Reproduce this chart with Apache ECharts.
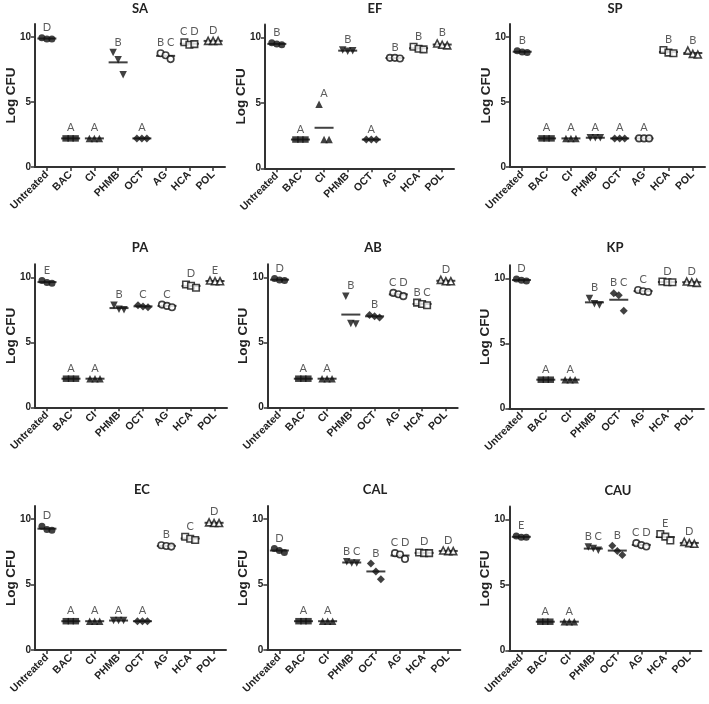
<!DOCTYPE html>
<html><head><meta charset="utf-8">
<script src="https://cdn.jsdelivr.net/npm/echarts@6/dist/echarts.min.js"></script>
<style>html,body{margin:0;padding:0;background:#fff}#c{width:709px;height:704px}</style>
</head><body><div id="c"></div>
<script>
// ---------- data ----------
const categories = ['Untreated', 'BAC', 'CI', 'PHMB', 'OCT', 'AG', 'HCA', 'POL'];
const yTickValues = [0, 5, 10];
const panelNames = ['SA', 'EF', 'SP', 'PA', 'AB', 'KP', 'EC', 'CAL', 'CAU'];

const SA_values = [[9.95, 9.85, 9.85], [2.2, 2.2, 2.2], [2.2, 2.2, 2.2], [8.8, 8.25, 7.1], [2.2, 2.2, 2.2], [8.75, 8.6, 8.3], [9.6, 9.4, 9.45], [9.7, 9.7, 9.7]];
const SA_letters = ['D', 'A', 'A', 'B', 'A', 'B C', 'C D', 'D'];

const EF_values = [[9.6, 9.5, 9.45], [2.2, 2.2, 2.2], [4.9, 2.2, 2.2], [9.05, 8.95, 9.0], [2.2, 2.2, 2.2], [8.45, 8.45, 8.4], [9.3, 9.15, 9.1], [9.55, 9.45, 9.4]];
const EF_letters = ['B', 'A', 'A', 'B', 'A', 'B', 'B', 'B'];

const SP_values = [[8.95, 8.85, 8.8], [2.2, 2.2, 2.2], [2.2, 2.2, 2.2], [2.25, 2.25, 2.25], [2.2, 2.2, 2.2], [2.2, 2.2, 2.2], [9.0, 8.8, 8.75], [8.95, 8.7, 8.65]];
const SP_letters = ['B', 'A', 'A', 'A', 'A', 'A', 'B', 'B'];

const PA_values = [[9.75, 9.6, 9.55], [2.2, 2.2, 2.2], [2.2, 2.2, 2.2], [7.85, 7.55, 7.5], [7.85, 7.75, 7.7], [7.9, 7.8, 7.7], [9.45, 9.35, 9.2], [9.75, 9.7, 9.7]];
const PA_letters = ['E', 'A', 'A', 'B', 'C', 'C', 'D', 'E'];

const AB_values = [[9.9, 9.8, 9.75], [2.2, 2.2, 2.2], [2.2, 2.2, 2.2], [8.55, 6.45, 6.4], [7.1, 7.0, 6.9], [8.8, 8.7, 8.55], [8.05, 7.95, 7.85], [9.8, 9.7, 9.7]];
const AB_letters = ['D', 'A', 'A', 'B', 'B', 'C D', 'B C', 'D'];

const KP_values = [[9.95, 9.85, 9.8], [2.2, 2.2, 2.2], [2.2, 2.2, 2.2], [8.45, 8.05, 7.95], [8.85, 8.7, 7.5], [9.1, 9.0, 8.95], [9.75, 9.7, 9.7], [9.75, 9.7, 9.65]];
const KP_letters = ['D', 'A', 'A', 'B', 'B C', 'C', 'D', 'D'];

const EC_values = [[9.45, 9.2, 9.15], [2.2, 2.2, 2.2], [2.2, 2.2, 2.2], [2.25, 2.25, 2.25], [2.2, 2.2, 2.2], [8.0, 7.95, 7.9], [8.65, 8.5, 8.4], [9.75, 9.7, 9.7]];
const EC_letters = ['D', 'A', 'A', 'A', 'A', 'B', 'C', 'D'];

const CAL_values = [[7.75, 7.6, 7.45], [2.2, 2.2, 2.2], [2.2, 2.2, 2.2], [6.75, 6.65, 6.65], [6.6, 6.0, 5.4], [7.4, 7.3, 6.95], [7.45, 7.4, 7.4], [7.6, 7.55, 7.55]];
const CAL_letters = ['D', 'A', 'A', 'B C', 'B', 'C D', 'D', 'D'];

const CAU_values = [[8.75, 8.65, 8.65], [2.2, 2.2, 2.2], [2.2, 2.2, 2.2], [7.9, 7.8, 7.65], [8.0, 7.6, 7.3], [8.2, 8.05, 7.95], [8.9, 8.7, 8.4], [8.3, 8.2, 8.15]];
const CAU_letters = ['E', 'A', 'A', 'B C', 'B', 'C D', 'E', 'D'];

// ---------- layout & style ----------
const panelValues = [SA_values, EF_values, SP_values, PA_values, AB_values, KP_values, EC_values, CAL_values, CAU_values];
const panelLetters = [SA_letters, EF_letters, SP_letters, PA_letters, AB_letters, KP_letters, EC_letters, CAL_letters, CAU_letters];

const layouts = [
  {left: 35, top: 24, width: 190, height: 143, tx: 140, ty: 9},
  {left: 265, top: 24.5, width: 189, height: 143.8, tx: 375, ty: 9},
  {left: 510, top: 24, width: 195, height: 143, tx: 615, ty: 9},
  {left: 35, top: 264.3, width: 192, height: 143, tx: 140, ty: 248},
  {left: 267.7, top: 264.3, width: 190, height: 143, tx: 373, ty: 248},
  {left: 509.3, top: 265.3, width: 194.6, height: 143, tx: 615, ty: 248},
  {left: 35, top: 506, width: 191, height: 144, tx: 142, ty: 490},
  {left: 267.3, top: 506, width: 193, height: 144, tx: 375, ty: 490},
  {left: 509.3, top: 506.5, width: 192, height: 144, tx: 618, ty: 491}
];

const markerStyles = [
  {symbol: 'circle', size: 7, rotate: 0, open: false},
  {symbol: 'rect', size: 6.5, rotate: 0, open: false},
  {symbol: 'triangle', size: 7.5, rotate: 0, open: false},
  {symbol: 'triangle', size: 7.5, rotate: 180, open: false},
  {symbol: 'diamond', size: 8, rotate: 0, open: false},
  {symbol: 'circle', size: 6.5, rotate: 0, open: true},
  {symbol: 'rect', size: 6.5, rotate: 0, open: true},
  {symbol: 'triangle', size: 7, rotate: 0, open: true}
];
const pointOffsets = [-5, 0, 5];
const AXIS_COLOR = '#333';
const TEXT_COLOR = '#222';

const grids = [], xAxes = [], yAxes = [], series = [], graphics = [];

panelValues.forEach((vals, i) => {
  const L = layouts[i];
  grids.push({left: L.left, top: L.top, width: L.width, height: L.height, containLabel: false});
  xAxes.push({
    type: 'category', gridIndex: i, data: categories,
    axisLine: {show: true, lineStyle: {color: AXIS_COLOR, width: 2}},
    axisTick: {show: true, alignWithLabel: true, length: 4, lineStyle: {color: AXIS_COLOR, width: 1.5}},
    axisLabel: {rotate: 45, interval: 0, margin: 6, fontSize: 10.5, fontWeight: 'bold', color: TEXT_COLOR, fontFamily: 'Liberation Sans'},
    splitLine: {show: false}
  });
  yAxes.push({
    type: 'value', gridIndex: i, min: 0, max: 11, interval: 5,
    name: 'Log CFU', nameLocation: 'middle', nameGap: 17, nameMoveOverlap: false,
    nameTextStyle: {fontSize: 13.5, fontWeight: 'bold', color: TEXT_COLOR, fontFamily: 'Liberation Sans'},
    axisLine: {show: true, lineStyle: {color: AXIS_COLOR, width: 2}},
    axisTick: {show: true, length: 4, customValues: yTickValues, lineStyle: {color: AXIS_COLOR, width: 1.5}},
    axisLabel: {customValues: yTickValues, margin: 4, fontSize: 10, fontWeight: 'bold', color: TEXT_COLOR, fontFamily: 'Liberation Sans'},
    splitLine: {show: false}
  });

  // mean lines
  series.push({
    type: 'scatter', xAxisIndex: i, yAxisIndex: i, z: 2, silent: true,
    symbol: 'rect', symbolSize: [19, 2],
    itemStyle: {color: '#111'},
    data: vals.map((g, c) => [c, g.reduce((a, b) => a + b, 0) / g.length])
  });

  // points
  const pts = [];
  vals.forEach((g, c) => {
    const m = markerStyles[c];
    g.forEach((v, k) => {
      pts.push({
        value: [c, v],
        symbol: m.symbol, symbolSize: m.size, symbolRotate: m.rotate,
        symbolOffset: [pointOffsets[k % pointOffsets.length], 0],
        itemStyle: m.open ? {color: '#fff', borderColor: '#111', borderWidth: 1.6}
                          : {color: '#111', borderWidth: 0}
      });
    });
  });
  series.push({type: 'scatter', xAxisIndex: i, yAxisIndex: i, z: 3, silent: true, data: pts});

  // significance letters
  const letters = panelLetters[i];
  series.push({
    type: 'scatter', xAxisIndex: i, yAxisIndex: i, z: 4, silent: true,
    symbolSize: 0.1, itemStyle: {color: 'rgba(0,0,0,0)'},
    label: {show: true, position: 'top', distance: 5, fontSize: 11, color: '#333', fontFamily: 'Lato',
            formatter: p => letters[p.dataIndex]},
    data: vals.map((g, c) => [c, Math.max(...g)])
  });

  graphics.push({
    type: 'text', x: L.tx, y: L.ty,
    style: {text: panelNames[i], font: 'bold 13px Lato', fill: TEXT_COLOR, align: 'center', verticalAlign: 'middle'}
  });
});

const chart = echarts.init(document.getElementById('c'), null, {renderer: 'canvas'});
chart.setOption({
  backgroundColor: '#fff',
  animation: false,
  grid: grids, xAxis: xAxes, yAxis: yAxes, series: series,
  graphic: graphics
});
</script></body></html>
